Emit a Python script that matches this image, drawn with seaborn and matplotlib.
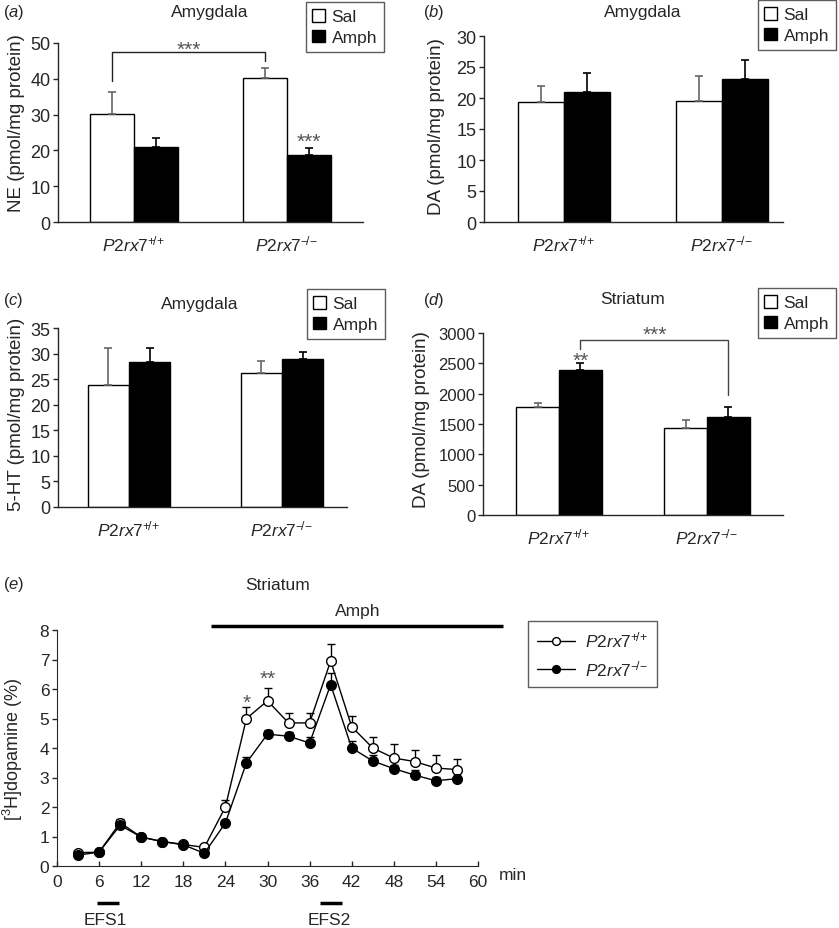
import numpy as np
import pandas as pd
import matplotlib
matplotlib.use("Agg")
import matplotlib.pyplot as plt
from matplotlib.container import BarContainer
import seaborn as sns

sns.set_style("ticks")
plt.rcParams['font.family'] = ['Liberation Sans', 'DejaVu Sans']
plt.rcParams['mathtext.fontset'] = 'custom'
plt.rcParams['mathtext.rm'] = 'Liberation Sans'
plt.rcParams['mathtext.it'] = 'Liberation Sans:italic'
plt.rcParams['font.size'] = 12.5

# ---- data ----
genotypes = [r'$\mathit{P2rx7}^{+\!/\!+}$', r'$\mathit{P2rx7}^{-\!/\!-}$']
treatments = ["Sal", "Amph"]

# (a) NE amygdala
ne_sal = [30.2, 40.2]
ne_sal_err = [6.0, 2.9]
ne_amph = [21.0, 18.8]
ne_amph_err = [2.6, 1.8]

# (b) DA amygdala
da_sal = [19.3, 19.5]
da_sal_err = [2.6, 4.0]
da_amph = [21.0, 23.0]
da_amph_err = [3.1, 3.1]

# (c) 5-HT amygdala
ht_sal = [23.9, 26.2]
ht_sal_err = [7.1, 2.3]
ht_amph = [28.4, 28.9]
ht_amph_err = [2.7, 1.5]

# (d) DA striatum
das_sal = [1780, 1430]
das_sal_err = [60, 130]
das_amph = [2390, 1615]
das_amph_err = [110, 160]

# (e) [3H]dopamine release time course
times = [3, 6, 9, 12, 15, 18, 21, 24, 27, 30, 33, 36, 39, 42, 45, 48, 51, 54, 57]
wt = [0.45, 0.47, 1.47, 0.98, 0.83, 0.73, 0.63, 2.0, 5.0, 5.6, 4.85, 4.85, 6.95,
      4.72, 4.0, 3.66, 3.54, 3.32, 3.27]
wt_err = [0.03, 0.03, 0.13, 0.04, 0.04, 0.04, 0.05, 0.25, 0.4, 0.43, 0.34, 0.34, 0.57,
          0.38, 0.37, 0.47, 0.39, 0.44, 0.36]
ko = [0.37, 0.47, 1.38, 0.98, 0.83, 0.72, 0.43, 1.46, 3.5, 4.47, 4.4, 4.17, 6.15,
      4.0, 3.56, 3.3, 3.08, 2.89, 2.96]
ko_err = [0.03, 0.03, 0.08, 0.03, 0.03, 0.03, 0.03, 0.1, 0.2, 0.13, 0.13, 0.2, 0.4,
          0.25, 0.19, 0.14, 0.18, 0.12, 0.1]

W, H = 839, 929
fig = plt.figure(figsize=(W / 100, H / 100), dpi=100)


def px_axes(left, right, top, bottom):
    return fig.add_axes([left / W, 1 - bottom / H, (right - left) / W, (bottom - top) / H])


def bar_conts(ax):
    return [c for c in ax.containers if isinstance(c, BarContainer)]


def stars(ax, x, y, s):
    # y is the centre of the asterisk glyphs
    ax.annotate(s, xy=(x, y), xytext=(0, -8.5), textcoords="offset points",
                ha="center", va="baseline", color="#555555", fontsize=15,
                annotation_clip=False)


def bar_panel(ax, sal, sal_err, amph, amph_err, ylabel, ymax, ystep, xlim, width, ylab_xy,
              leg_anchor, ytick_size=13):
    df = pd.DataFrame({
        "genotype": genotypes * 2,
        "treatment": ["Sal"] * 2 + ["Amph"] * 2,
        "value": sal + amph,
    })
    sns.barplot(data=df, x="genotype", y="value", hue="treatment", hue_order=treatments,
                palette={"Sal": "white", "Amph": "black"}, edgecolor="black", linewidth=1,
                width=width, errorbar=None, ax=ax)
    errs = [sal_err, amph_err]
    ecolors = ["#666666", "black"]
    for cont, err, ec in zip(bar_conts(ax), errs, ecolors):
        for bar, e in zip(cont, err):
            x = bar.get_x() + bar.get_width() / 2
            ax.errorbar(x, bar.get_height(), yerr=[[0], [e]], fmt="none", ecolor=ec,
                        elinewidth=1.2, capsize=3, capthick=1.2, zorder=1)
    ax.set_ylim(0, ymax)
    ax.set_yticks(np.arange(0, ymax + 1, ystep))
    ax.set_xlim(*xlim)
    ax.set_xlabel("")
    ax.set_ylabel(ylabel, fontsize=13.5)
    ax.yaxis.set_label_coords(*ylab_xy)
    ax.tick_params(axis="x", length=0, pad=8, labelsize=12.5)
    ax.tick_params(axis="y", length=3.5, width=1, pad=2, labelsize=ytick_size, direction="out")
    sns.despine(ax=ax)
    for s in ["left", "bottom"]:
        ax.spines[s].set_linewidth(1)
    sns.move_legend(ax, "upper right", bbox_to_anchor=leg_anchor, bbox_transform=fig.transFigure,
                    title=None, frameon=True, fancybox=False, edgecolor="#333333",
                    handlelength=0.75, handleheight=0.75, handletextpad=0.35,
                    labelspacing=0.3, borderpad=0.4, borderaxespad=0, fontsize=12.5)
    ax.get_legend().get_frame().set_linewidth(1)


def bar_centers(ax):
    return [[b.get_x() + b.get_width() / 2 for b in cont] for cont in bar_conts(ax)]


# (a)
ax_a = px_axes(58, 363, 44, 223)
bar_panel(ax_a, ne_sal, ne_sal_err, ne_amph, ne_amph_err, "NE (pmol/mg protein)", 50, 10,
          (-0.497, 1.497), 0.58, (-0.108, 0.56), (384 / W, 1 - 3 / H))
c = bar_centers(ax_a)
ax_a.plot([c[0][0], c[0][0], c[0][1], c[0][1]], [39.3, 47.5, 47.5, 45.1], color="#222222", lw=1)
stars(ax_a, (c[0][0] + c[0][1]) / 2, 50, "***")
stars(ax_a, c[1][1], 24.2, "***")

# (b)
ax_b = px_axes(484, 783, 37, 223)
bar_panel(ax_b, da_sal, da_sal_err, da_amph, da_amph_err, "DA (pmol/mg protein)", 30, 5,
          (-0.506, 1.386), 0.58, (-0.13, 0.52), (836 / W, 1 - 1 / H))

# (c)
ax_c = px_axes(58, 347, 329, 508)
bar_panel(ax_c, ht_sal, ht_sal_err, ht_amph, ht_amph_err, "5-HT (pmol/mg protein)", 35, 5,
          (-0.464, 1.425), 0.54, (-0.114, 0.525), (385 / W, 1 - 290 / H))

# (d)
ax_d = px_axes(483, 783, 334, 516)
bar_panel(ax_d, das_sal, das_sal_err, das_amph, das_amph_err, "DA (pmol/mg protein)", 3000, 500,
          (-0.514, 1.514), 0.58, (-0.177, 0.53), (836 / W, 1 - 289 / H), ytick_size=12)
c = bar_centers(ax_d)
ax_d.plot([c[1][0], c[1][0], c[1][1], c[1][1]], [2740, 2878, 2878, 1981], color="#444444", lw=1)
stars(ax_d, (c[1][0] + c[1][1]) / 2, 3082, "***")
stars(ax_d, c[1][0], 2660, "**")

# (e)
ax_e = px_axes(57, 478, 631, 867)
sns.lineplot(x=times, y=wt, ax=ax_e, color="black", lw=1, marker="o", markersize=7,
             markerfacecolor="white", markeredgecolor="black", markeredgewidth=1,
             label=r'$\mathit{P2rx7}^{+\!/\!+}$', zorder=3)
ax_e.errorbar(times, wt, yerr=[np.zeros(len(wt)), wt_err], fmt="none", ecolor="black",
              elinewidth=1, capsize=3, capthick=1, zorder=2)
sns.lineplot(x=times, y=ko, ax=ax_e, color="black", lw=1, marker="o", markersize=7,
             markerfacecolor="black", markeredgecolor="black", markeredgewidth=1,
             label=r'$\mathit{P2rx7}^{-\!/\!-}$', zorder=4)
ax_e.errorbar(times, ko, yerr=[np.zeros(len(ko)), ko_err], fmt="none", ecolor="black",
              elinewidth=1, capsize=3, capthick=1, zorder=2)
ax_e.set_xlim(0, 60)
ax_e.set_ylim(0, 8)
ax_e.set_xticks(range(0, 61, 6))
ax_e.set_yticks(range(0, 9))
ax_e.set_ylabel(r'[$^{3}$H]dopamine (%)', fontsize=13)
ax_e.yaxis.set_label_coords(-0.076, 0.5)
ax_e.tick_params(axis="x", direction="in", length=3.5, width=1, pad=6, labelsize=12.5)
ax_e.tick_params(axis="y", direction="out", length=3.5, width=1, pad=2, labelsize=12.5)
sns.despine(ax=ax_e)
ax_e.text(63, -0.05, "min", ha="left", va="top", fontsize=12.5)
stars(ax_e, 27, 5.77, "*")
stars(ax_e, 30, 6.59, "**")
# Amph application bar and EFS periods
ax_e.plot([22, 63.5], [8.14, 8.14], color="black", lw=2.5, clip_on=False, solid_capstyle="butt")
ax_e.text(42.8, 8.65, "Amph", ha="center", va="center", fontsize=12.5)
for x0, x1, lab in [(5.7, 8.8, "EFS1"), (37.5, 40.6, "EFS2")]:
    ax_e.plot([x0, x1], [-1.25, -1.25], color="black", lw=2.5, clip_on=False, solid_capstyle="butt")
    ax_e.text((x0 + x1) / 2 - 0.3, -1.8, lab, ha="center", va="center", fontsize=12.5)
leg = ax_e.legend(loc="upper left", bbox_to_anchor=(528 / W, 1 - 622 / H),
                  bbox_transform=fig.transFigure, frameon=True, fancybox=False,
                  edgecolor="#333333", handlelength=2.2, handletextpad=0.6,
                  labelspacing=0.5, borderpad=0.5, borderaxespad=0, fontsize=12.5, markerscale=0.8)
leg.get_frame().set_linewidth(1)

# panel letters and titles
for x, y, t in [(3, 12, r'($\mathit{a}$)'), (423, 12, r'($\mathit{b}$)'),
                (3, 300, r'($\mathit{c}$)'), (423, 300, r'($\mathit{d}$)'),
                (3, 585, r'($\mathit{e}$)')]:
    fig.text(x / W, 1 - y / H, t, ha="left", va="center", fontsize=12)
for x, y, t in [(210, 12, "Amygdala"), (643, 12, "Amygdala"), (200, 305, "Amygdala"),
                (633, 300, "Striatum"), (278, 585, "Striatum")]:
    fig.text(x / W, 1 - y / H, t, ha="center", va="center", fontsize=12.5)

fig.savefig("out.png", dpi=100)
